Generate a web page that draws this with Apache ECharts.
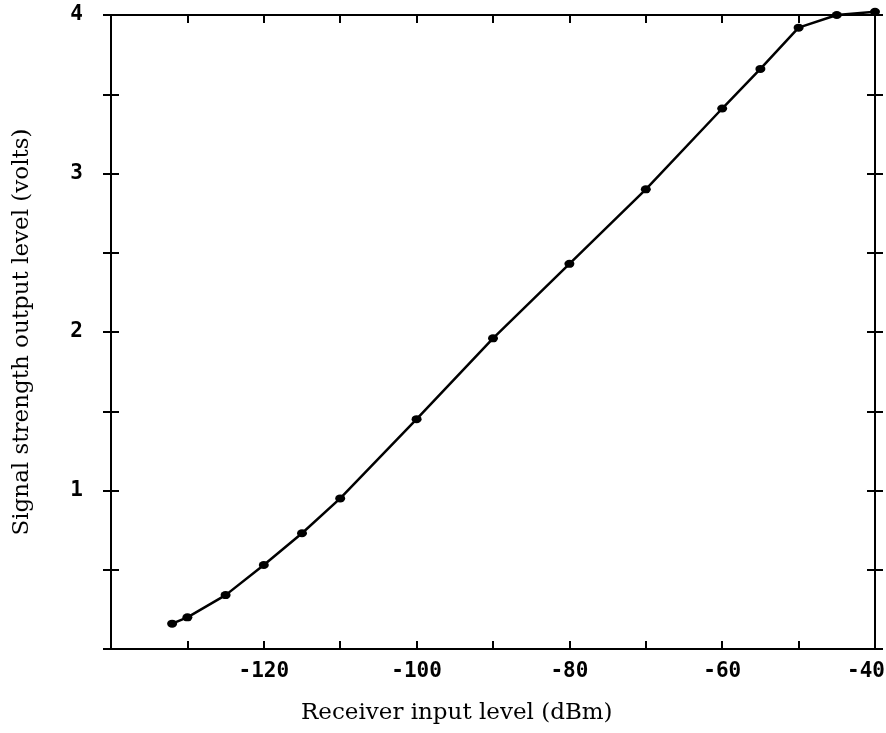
<!DOCTYPE html>
<html>
<head>
<meta charset="utf-8">
<script src="https://cdn.jsdelivr.net/npm/echarts@6/dist/echarts.min.js"></script>
<style>
    html, body { margin: 0; padding: 0; background: #fff; }
    #main { width: 886px; height: 733px; }
</style>
</head>
<body>
<div id="main"></div>
<script>
// receiver input (dBm) vs signal strength output (volts)
const inputLevel = [-132, -130, -125, -120, -115, -110, -100, -90, -80, -70, -60, -55, -50, -45, -40];
const outputVolts = [0.16, 0.2, 0.34, 0.53, 0.73, 0.95, 1.45, 1.96, 2.43, 2.9, 3.41, 3.66, 3.92, 4.0, 4.02];
const xLabels = [-120, -100, -80, -60, -40];
const yLabels = [1, 2, 3, 4];

const monoFont = {fontFamily: 'DejaVu Sans Mono', fontWeight: 'bold', fontSize: 21, color: '#000'};
const serifFont = 'DejaVu Serif';
const axisLine = {show: true, onZero: false, lineStyle: {color: '#000', width: 2}};

function yAxisDef(pos, inside, showLabel) {
    return {
        type: 'value', position: pos, min: 0, max: 4, interval: 0.5,
        axisLine: axisLine,
        axisTick: {show: true, inside: inside, length: 8, lineStyle: {color: '#000', width: 2}},
        axisLabel: {
            show: showLabel, margin: 28, ...monoFont,
            formatter: v => yLabels.includes(v) ? String(v) : ''
        },
        splitLine: {show: false}
    };
}

function xAxisDef(pos, showLabel) {
    return {
        type: 'value', position: pos, min: -140, max: -40, interval: 10,
        axisLine: axisLine,
        axisTick: {show: true, inside: true, length: 8, lineStyle: {color: '#000', width: 2}},
        axisLabel: {
            show: showLabel, margin: 12, ...monoFont,
            // last label sits a bit left so it stays inside the page
            formatter: v => {
                if (!xLabels.includes(v)) return '';
                return v === -40 ? '{r|' + v + '}' : String(v);
            },
            rich: {r: {...monoFont, padding: [0, 18, 0, 0]}}
        },
        splitLine: {show: false}
    };
}

let chart = echarts.init(document.getElementById('main'));
let option = {
    backgroundColor: '#fff',
    animation: false,
    title: {
        text: 'Receiver input level (dBm)',
        left: 296, top: 697,
        textStyle: {fontFamily: serifFont, fontWeight: 'normal', fontSize: 23, color: '#000'}
    },
    grid: {left: 111, right: 11, top: 15, bottom: 84, outerBoundsMode: 'none'},
    xAxis: [xAxisDef('bottom', true), xAxisDef('top', false)],
    yAxis: [
        Object.assign(yAxisDef('left', false, true), {
            name: 'Signal strength output level (volts)',
            nameLocation: 'middle', nameGap: 77, nameRotate: 90,
            nameTextStyle: {fontFamily: serifFont, fontSize: 23, color: '#000'}
        }),
        yAxisDef('left', true, false),
        yAxisDef('right', false, false),
        yAxisDef('right', true, false)
    ],
    series: [{
        type: 'line',
        data: inputLevel.map((x, i) => [x, outputVolts[i]]),
        symbol: 'circle',
        symbolSize: [10, 8],
        clip: false,
        itemStyle: {color: '#000'},
        lineStyle: {color: '#000', width: 2.5}
    }]
};
option && chart.setOption(option);
</script>
</body>
</html>
